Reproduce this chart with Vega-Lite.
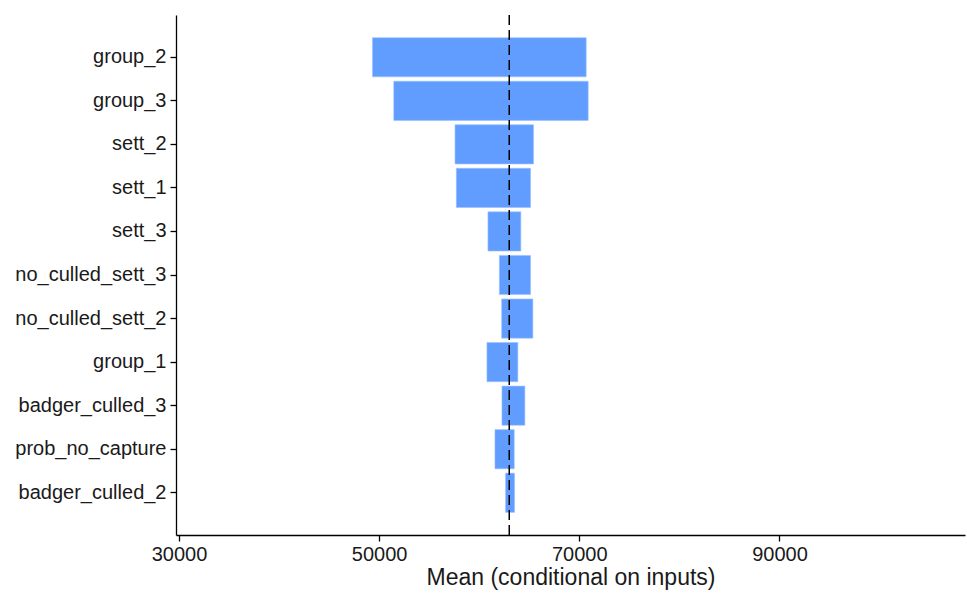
{
  "$schema": "https://vega.github.io/schema/vega-lite/v6.json",
  "autosize": "none",
  "width": 789,
  "height": 520,
  "padding": {"left": 176, "top": 15, "right": 2, "bottom": 61},
  "background": "white",
  "config": {
    "view": {"stroke": null},
    "font": "Liberation Sans",
    "axis": {
      "grid": false,
      "domainColor": "black",
      "domainWidth": 1.3,
      "tickColor": "black",
      "tickWidth": 1.3,
      "tickSize": 6,
      "labelColor": "#1a1a1a",
      "labelFont": "Liberation Sans",
      "titleFont": "Liberation Sans",
      "titleColor": "#1a1a1a",
      "titleFontWeight": "normal"
    }
  },
  "layer": [
    {
      "data": {
        "values": [
          {"input": "group_2", "low": 49330, "high": 70690},
          {"input": "group_3", "low": 51460, "high": 70890},
          {"input": "sett_2", "low": 57580, "high": 65430},
          {"input": "sett_1", "low": 57710, "high": 65130},
          {"input": "sett_3", "low": 60870, "high": 64160},
          {"input": "no_culled_sett_3", "low": 62010, "high": 65130},
          {"input": "no_culled_sett_2", "low": 62240, "high": 65360},
          {"input": "group_1", "low": 60770, "high": 63860},
          {"input": "badger_culled_3", "low": 62270, "high": 64560},
          {"input": "prob_no_capture", "low": 61570, "high": 63500},
          {"input": "badger_culled_2", "low": 62630, "high": 63530}
        ]
      },
      "mark": {"type": "bar", "color": "#619CFF", "stroke": "#9cc2ff", "strokeWidth": 0.6},
      "encoding": {
        "y": {
          "field": "input",
          "type": "nominal",
          "sort": null,
          "scale": {"paddingInner": 0.1, "paddingOuter": 0.52},
          "axis": {"title": null, "labelPadding": 4, "labelFontSize": 20}
        },
        "x": {
          "field": "low",
          "type": "quantitative",
          "scale": {"domain": [29700, 108540], "nice": false, "zero": false},
          "axis": {
            "title": "Mean (conditional on inputs)",
            "values": [30000, 50000, 70000, 90000],
            "format": "d",
            "labelFontSize": 20,
            "titleFontSize": 23,
            "labelPadding": 3,
            "titlePadding": 2
          }
        },
        "x2": {"field": "high"}
      }
    },
    {
      "data": {"values": [{"overall": 63000}]},
      "mark": {"type": "rule", "color": "black", "strokeWidth": 1.5, "strokeDash": [10, 5]},
      "encoding": {
        "x": {"field": "overall", "type": "quantitative"}
      }
    }
  ]
}
